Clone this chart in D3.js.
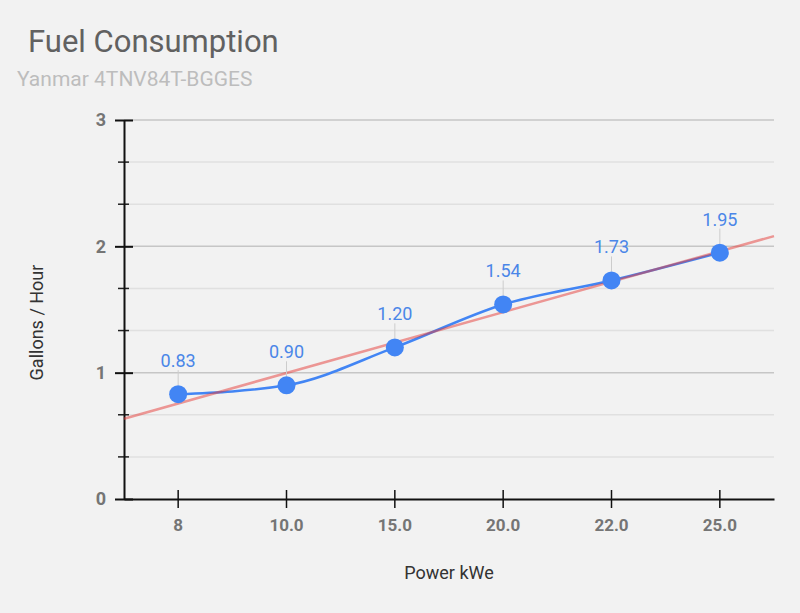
<!DOCTYPE html>
<html>
<head>
<meta charset="utf-8">
<script src="https://cdn.jsdelivr.net/npm/d3@7"></script>
<style>
  body { margin: 0; background: #f2f2f2; }
  .chart { width: 800px; height: 613px; font-family: Roboto, "Noto Sans", sans-serif; }
</style>
</head>
<body>
<div class="chart"></div>
<script>
var categories = ["8", "10.0", "15.0", "20.0", "22.0", "25.0"];
var gallons = [0.83, 0.90, 1.20, 1.54, 1.73, 1.95];
var yTicks = [0, 1, 2, 3];
var yMinorTicks = [1/3, 2/3, 4/3, 5/3, 7/3, 8/3];

function drawLineChart() {
  var eleChart = d3.select(".chart").html(""),
      margin = {top: 120, right: 26, bottom: 114, left: 124},
      width = 800 - margin.left - margin.right,
      height = 613 - margin.top - margin.bottom;

  var svg = eleChart.append("svg").attr("width", 800).attr("height", 613);
  svg.append("rect").attr("width", 800).attr("height", 613).attr("fill", "#f2f2f2");

  svg.append("text").attr("x", 28).attr("y", 52)
    .attr("font-size", "31px").attr("fill", "#616161")
    .text("Fuel Consumption");
  svg.append("text").attr("x", 17).attr("y", 86)
    .attr("font-size", "21px").attr("fill", "#bdbdbd")
    .text("Yanmar 4TNV84T-BGGES");

  var x = d3.scaleBand().domain(categories).range([0, width]),
      y = d3.scaleLinear().domain([0, 3]).range([height, 0]);
  var cx = function(i) { return x(categories[i]) + x.bandwidth() / 2; };

  var g = svg.append("g")
      .attr("transform", "translate(" + margin.left + "," + margin.top + ")");

  // gridlines
  g.selectAll(".minor-grid").data(yMinorTicks).enter().append("line")
    .attr("x1", 0).attr("x2", width)
    .attr("y1", function(d) { return y(d); }).attr("y2", function(d) { return y(d); })
    .attr("stroke", "#e0e0e0").attr("stroke-width", 1.5);
  g.selectAll(".major-grid").data(yTicks.slice(1)).enter().append("line")
    .attr("x1", 0).attr("x2", width)
    .attr("y1", function(d) { return y(d); }).attr("y2", function(d) { return y(d); })
    .attr("stroke", "#c6c6c6").attr("stroke-width", 1.5);

  // y minor ticks
  g.selectAll(".minor-tick").data(yMinorTicks).enter().append("line")
    .attr("x1", -6).attr("x2", 5)
    .attr("y1", function(d) { return y(d); }).attr("y2", function(d) { return y(d); })
    .attr("stroke", "#222").attr("stroke-width", 1.5);

  // y axis
  var yAxis = g.append("g").attr("class", "axis axis-y")
    .call(d3.axisLeft(y).tickValues(yTicks).tickFormat(d3.format("d")).tickSize(9).tickSizeOuter(0));
  yAxis.select(".domain").attr("stroke", "#111").attr("stroke-width", 2);
  yAxis.selectAll(".tick line").attr("x2", 9).attr("x1", -9).attr("stroke", "#111").attr("stroke-width", 2);
  yAxis.selectAll(".tick text").attr("x", -18)
    .attr("font-size", "18px").attr("font-weight", "bold").attr("fill", "#757575")
    .attr("font-family", "Roboto, sans-serif");

  // x axis
  var xAxis = g.append("g").attr("class", "axis axis-x")
    .attr("transform", "translate(0," + height + ")")
    .call(d3.axisBottom(x).tickSize(9).tickSizeOuter(0));
  xAxis.select(".domain").attr("stroke", "#111").attr("stroke-width", 2);
  xAxis.selectAll(".tick line").attr("y1", -9).attr("y2", 9).attr("stroke", "#111").attr("stroke-width", 1.5);
  xAxis.selectAll(".tick text").attr("y", 20)
    .attr("font-size", "17px").attr("font-weight", "bold").attr("fill", "#757575")
    .attr("font-family", "Roboto, sans-serif");

  // axis labels
  g.append("text").attr("x", width / 2).attr("y", height + 80)
    .attr("text-anchor", "middle").attr("font-size", "18px").attr("fill", "#333")
    .text("Power kWe");
  g.append("text")
    .attr("transform", "translate(" + (-81) + "," + (height / 2 + 13) + ") rotate(-90)")
    .attr("text-anchor", "middle").attr("font-size", "18px").attr("fill", "#333")
    .text("Gallons / Hour");

  // series line
  var line = d3.line()
    .x(function(d, i) { return cx(i); })
    .y(function(d) { return y(d); })
    .curve(d3.curveMonotoneX);
  g.append("path").datum(gallons)
    .attr("fill", "none").attr("stroke", "#4285f4").attr("stroke-width", 2.5)
    .attr("d", line);

  // linear trendline (least squares on category index)
  var n = gallons.length,
      mx = d3.mean(gallons, function(d, i) { return i; }),
      my = d3.mean(gallons),
      sxy = d3.sum(gallons, function(d, i) { return (i - mx) * (d - my); }),
      sxx = d3.sum(gallons, function(d, i) { return (i - mx) * (i - mx); }),
      slope = sxy / sxx,
      icpt = my - slope * mx;
  var step = x.step();
  var i0 = -0.5, i1 = n - 0.5;
  g.append("line")
    .attr("x1", cx(0) + i0 * step).attr("x2", cx(0) + i1 * step)
    .attr("y1", y(icpt + slope * i0)).attr("y2", y(icpt + slope * i1))
    .attr("stroke", "#e53935").attr("stroke-opacity", 0.5).attr("stroke-width", 2.5);

  // annotation stems
  g.selectAll(".stem").data(gallons).enter().append("line")
    .attr("x1", function(d, i) { return cx(i); }).attr("x2", function(d, i) { return cx(i); })
    .attr("y1", function(d) { return y(d) - 9; }).attr("y2", function(d) { return y(d) - 24; })
    .attr("stroke", "#cccccc").attr("stroke-width", 1);

  // points
  g.selectAll(".point").data(gallons).enter().append("circle")
    .attr("cx", function(d, i) { return cx(i); })
    .attr("cy", function(d) { return y(d); })
    .attr("r", 9).attr("fill", "#4285f4");

  // value labels
  g.selectAll(".label").data(gallons).enter().append("text")
    .attr("x", function(d, i) { return cx(i); })
    .attr("y", function(d) { return y(d) - 27; })
    .attr("text-anchor", "middle").attr("font-size", "18px").attr("fill", "#4a86e8")
    .text(function(d) { return d3.format(".2f")(d); });
}

drawLineChart();
</script>
</body>
</html>
